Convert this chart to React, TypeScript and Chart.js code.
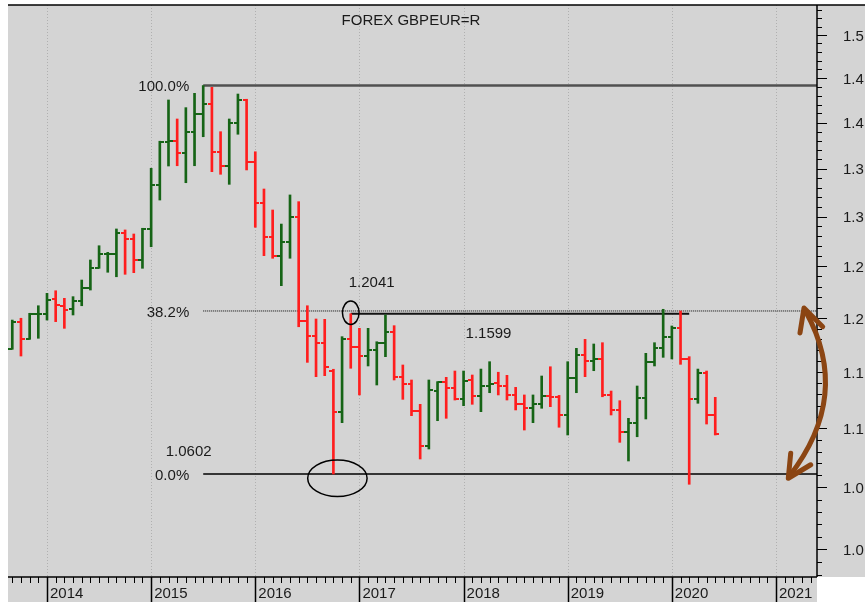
import React, { useEffect, useRef } from "react";
import { Chart, registerables } from "chart.js";

Chart.register(...registerables);

// ---------- data ----------
const months: string[] = [
  "2013-09", "2013-10", "2013-11", "2013-12",
  "2014-01", "2014-02", "2014-03", "2014-04", "2014-05", "2014-06", "2014-07", "2014-08", "2014-09", "2014-10", "2014-11", "2014-12",
  "2015-01", "2015-02", "2015-03", "2015-04", "2015-05", "2015-06", "2015-07", "2015-08", "2015-09", "2015-10", "2015-11", "2015-12",
  "2016-01", "2016-02", "2016-03", "2016-04", "2016-05", "2016-06", "2016-07", "2016-08", "2016-09", "2016-10", "2016-11", "2016-12",
  "2017-01", "2017-02", "2017-03", "2017-04", "2017-05", "2017-06", "2017-07", "2017-08", "2017-09", "2017-10", "2017-11", "2017-12",
  "2018-01", "2018-02", "2018-03", "2018-04", "2018-05", "2018-06", "2018-07", "2018-08", "2018-09", "2018-10", "2018-11", "2018-12",
  "2019-01", "2019-02", "2019-03", "2019-04", "2019-05", "2019-06", "2019-07", "2019-08", "2019-09", "2019-10", "2019-11", "2019-12",
  "2020-01", "2020-02", "2020-03", "2020-04", "2020-05", "2020-06",
];

const openV: number[] = [
  1.1711, 1.1960, 1.1803, 1.2035,
  1.2040, 1.2180, 1.2115, 1.2083, 1.2162, 1.2285, 1.2486, 1.2619, 1.2624, 1.2829, 1.2769, 1.2562,
  1.2870, 1.3327, 1.3785, 1.3800, 1.3664, 1.3899, 1.4095, 1.4204, 1.3681, 1.3528, 1.3992, 1.4251,
  1.3574, 1.3136, 1.2795, 1.2605, 1.2744, 1.2998, 1.1975, 1.1834, 1.1763, 1.1510, 1.1141, 1.1803,
  1.1732, 1.1646, 1.1702, 1.1763, 1.1871, 1.1458, 1.1392, 1.1152, 1.0851, 1.1330, 1.1407, 1.1359,
  1.1255, 1.1428, 1.1285, 1.1374, 1.1398, 1.1374, 1.1294, 1.1214, 1.1176, 1.1214, 1.1285, 1.1278,
  1.1117, 1.1449, 1.1655, 1.1603, 1.1616, 1.1294, 1.1161, 1.0966, 1.1050, 1.1270, 1.1594, 1.1723,
  1.1825, 1.1903, 1.1619, 1.1255, 1.1488, 1.1117,
];

const highV: number[] = [
  1.1981, 1.1998, 1.2045, 1.2117,
  1.2236, 1.2261, 1.2188, 1.2204, 1.2365, 1.2562, 1.2704, 1.2638, 1.2873, 1.2863, 1.2822, 1.2880,
  1.3504, 1.3795, 1.4251, 1.4039, 1.4165, 1.4326, 1.4414, 1.4394, 1.3899, 1.4039, 1.4318, 1.4259,
  1.3681, 1.3285, 1.3067, 1.2923, 1.3223, 1.3153, 1.2117, 1.1991, 1.1988, 1.1525, 1.1825, 1.2041,
  1.1903, 1.1903, 1.1778, 1.2029, 1.1928, 1.1564, 1.1428, 1.1211, 1.1428, 1.1413, 1.1452, 1.1509,
  1.1509, 1.1473, 1.1527, 1.1594, 1.1498, 1.1470, 1.1362, 1.1294, 1.1294, 1.1464, 1.1548, 1.1290,
  1.1594, 1.1717, 1.1800, 1.1757, 1.1769, 1.1329, 1.1243, 1.1088, 1.1374, 1.1671, 1.1769, 1.2083,
  1.1925, 1.2067, 1.1640, 1.1527, 1.1509, 1.1273,
];

const lowV: number[] = [
  1.1708, 1.1646, 1.1800, 1.1810,
  1.1981, 1.1966, 1.1903, 1.2029, 1.2117, 1.2268, 1.2480, 1.2441, 1.2397, 1.2421, 1.2437, 1.2480,
  1.2694, 1.3170, 1.3528, 1.3531, 1.3351, 1.3531, 1.3844, 1.3468, 1.3440, 1.3334, 1.3871, 1.3486,
  1.2890, 1.2605, 1.2579, 1.2310, 1.2579, 1.1918, 1.1588, 1.1458, 1.1467, 1.0612, 1.1050, 1.1534,
  1.1294, 1.1555, 1.1383, 1.1640, 1.1428, 1.1255, 1.1111, 1.0738, 1.0823, 1.1067, 1.1088, 1.1249,
  1.1199, 1.1211, 1.1146, 1.1314, 1.1294, 1.1249, 1.1161, 1.0986, 1.1050, 1.1176, 1.1190, 1.1010,
  1.0943, 1.1314, 1.1458, 1.1512, 1.1278, 1.1117, 1.0880, 1.0721, 1.0928, 1.1082, 1.1555, 1.1634,
  1.1619, 1.1570, 1.0526, 1.1220, 1.1038, 1.0943,
];

const closeV: number[] = [
  1.1966, 1.1803, 1.2035, 1.2040,
  1.2172, 1.2124, 1.2076, 1.2162, 1.2285, 1.2486, 1.2619, 1.2624, 1.2829, 1.2769, 1.2562, 1.2870,
  1.3327, 1.3785, 1.3800, 1.3664, 1.3899, 1.4095, 1.4204, 1.3681, 1.3528, 1.3992, 1.4251, 1.3574,
  1.3136, 1.2795, 1.2605, 1.2744, 1.2998, 1.1975, 1.1834, 1.1763, 1.1543, 1.1141, 1.1803, 1.1732,
  1.1646, 1.1702, 1.1763, 1.1871, 1.1458, 1.1392, 1.1152, 1.0851, 1.1338, 1.1407, 1.1359, 1.1255,
  1.1419, 1.1285, 1.1374, 1.1392, 1.1374, 1.1294, 1.1214, 1.1176, 1.1214, 1.1285, 1.1278, 1.1117,
  1.1449, 1.1655, 1.1603, 1.1616, 1.1294, 1.1161, 1.0966, 1.1050, 1.1270, 1.1594, 1.1723, 1.1825,
  1.1903, 1.1619, 1.1255, 1.1488, 1.1117, 1.0950,
];

const yMajorTicks: number[] = [1.0, 1.05, 1.1, 1.15, 1.2, 1.25, 1.3, 1.35, 1.4, 1.45, 1.5];
const yMajorLabels: string[] = ["1.0", "1.0", "1.1", "1.1", "1.2", "1.2", "1.3", "1.3", "1.4", "1.4", "1.5"];
const xYearTicks: number[] = [2014, 2015, 2016, 2017, 2018, 2019, 2020, 2021];
const xYearLabels: string[] = ["2014", "2015", "2016", "2017", "2018", "2019", "2020", "2021"];

const fibLevels: number[] = [1.4414, 1.2067, 1.0612];
const fibLabels: string[] = ["100.0%", "38.2%", "0.0%"];
const fibStart = "2015-07";

const resistLevel = 1.2041;
const resistFrom = "2016-12";
const resistTo = "2020-03";
const lowMonth = "2016-10";

const titleText = "FOREX GBPEUR=R";
const highNote = "1.2041";
const lowNote = "1.0602";
const midNote = "1.1599";

const X_MIN = 2013.6255;
const X_MAX = 2021.3937;
const Y_MIN = 0.9784;
const Y_MAX = 1.5359;

// ---------- styles ----------
const BG = "#d4d4d4";
const GREEN = "#166416";
const RED = "#ff1e1e";
const TEXT = "#1a1a1a";
const FONT = "'Liberation Sans', Arial, Helvetica, sans-serif";
const BROWN = "#8b4513";

const xOf = (m: string) => {
  const [y, mo] = m.split("-").map(Number);
  return y + (mo - 1) / 12;
};

function makeTick(color: string, side: "open" | "close") {
  const c = document.createElement("canvas");
  c.width = 8;
  c.height = 2;
  const g = c.getContext("2d")!;
  g.fillStyle = color;
  if (side === "open") g.fillRect(0, 0, 4, 2);
  else g.fillRect(4, 0, 4, 2);
  return c;
}

const decor = {
  id: "decor",
  beforeDraw(chart: any) {
    const { ctx, chartArea: ca, width, height } = chart;
    ctx.save();
    ctx.fillStyle = "#ffffff";
    ctx.fillRect(0, 0, width, height);
    ctx.fillStyle = BG;
    ctx.fillRect(ca.left, ca.top, width - ca.left, ca.bottom - ca.top);
    ctx.fillRect(ca.left, ca.bottom, ca.right - ca.left, height - ca.bottom);
    ctx.restore();
  },
  beforeDatasetsDraw(chart: any) {
    const { ctx, chartArea: ca, scales } = chart;
    const x = scales.x;
    ctx.save();
    ctx.strokeStyle = "#b0b0b0";
    ctx.lineWidth = 1;
    ctx.setLineDash([1, 2]);
    for (const v of xYearTicks) {
      const px = Math.round(x.getPixelForValue(v)) + 0.5;
      ctx.beginPath();
      ctx.moveTo(px, ca.top);
      ctx.lineTo(px, ca.bottom);
      ctx.stroke();
    }
    ctx.restore();
  },
  afterDraw(chart: any) {
    const { ctx, chartArea: ca, width, height, scales } = chart;
    const x = scales.x;
    const y = scales.y;
    const line = (x1: number, y1: number, x2: number, y2: number) => {
      ctx.beginPath();
      ctx.moveTo(x1, y1);
      ctx.lineTo(x2, y2);
      ctx.stroke();
    };
    ctx.save();
    ctx.strokeStyle = "#000";
    ctx.lineWidth = 1.5;
    line(ca.left, ca.top, width, ca.top);
    line(ca.right, ca.top, ca.right, ca.bottom);
    line(ca.left, ca.bottom, ca.right, ca.bottom);

    // y ticks
    ctx.lineWidth = 1;
    for (let i = 98; i <= 153; i++) {
      const v = i / 100;
      const py = Math.round(y.getPixelForValue(v)) + 0.5;
      const major = i % 5 === 0;
      line(ca.right, py, ca.right + (major ? 10 : 5), py);
    }
    // x ticks (monthly)
    for (let yr = 2013; yr <= 2021; yr++) {
      for (let mo = 0; mo < 12; mo++) {
        const v = yr + mo / 12;
        if (v < X_MIN || v > X_MAX) continue;
        const px = Math.round(x.getPixelForValue(v)) + 0.5;
        if (mo === 0) {
          ctx.lineWidth = 1.5;
          line(px, ca.bottom, px, height);
        } else {
          ctx.lineWidth = 1;
          line(px, ca.bottom, px, ca.bottom + 6);
        }
      }
    }

    // texts
    ctx.fillStyle = TEXT;
    ctx.font = `15px ${FONT}`;
    ctx.textBaseline = "middle";
    const fx = x.getPixelForValue(xOf(fibStart));
    ctx.textAlign = "right";
    fibLevels.forEach((lv, i) => {
      ctx.fillText(fibLabels[i], fx - 14, y.getPixelForValue(lv) + 1.5);
    });
    ctx.textAlign = "left";
    const rx = x.getPixelForValue(xOf(resistFrom));
    const ry = y.getPixelForValue(resistLevel);
    ctx.fillText(highNote, rx - 2, ry - 31);
    ctx.fillText(lowNote, fx - 37.5, y.getPixelForValue(fibLevels[2]) - 22);
    ctx.fillText(midNote, x.getPixelForValue(2018) + 2, ry + 20);
    ctx.textAlign = "center";
    ctx.fillText(titleText, (ca.left + ca.right) / 2 - 1.5, ca.top + 15.7);

    // ellipses
    ctx.strokeStyle = "#000";
    ctx.lineWidth = 1.5;
    ctx.beginPath();
    ctx.ellipse(rx, ry - 1, 8.3, 11.7, 0, 0, Math.PI * 2);
    ctx.stroke();
    const lx = x.getPixelForValue(xOf(lowMonth));
    const ly = y.getPixelForValue(fibLevels[2]);
    ctx.beginPath();
    ctx.ellipse(lx + 4, ly + 4.3, 29.7, 18.3, 0, 0, Math.PI * 2);
    ctx.stroke();

    // brown double arrow
    const topY = y.getPixelForValue(fibLevels[1]);
    const botY = y.getPixelForValue(fibLevels[2]);
    const tTip = { x: ca.right - 13, y: topY - 3 };
    const bTip = { x: ca.right - 28.7, y: botY + 4.3 };
    ctx.strokeStyle = BROWN;
    ctx.lineWidth = 5;
    ctx.lineCap = "round";
    ctx.lineJoin = "round";
    ctx.beginPath();
    ctx.moveTo(tTip.x + 2, tTip.y + 4);
    ctx.quadraticCurveTo(ca.right + 35, (topY + botY) / 2 + 3, bTip.x + 1, bTip.y - 2);
    ctx.stroke();
    ctx.beginPath();
    ctx.moveTo(tTip.x - 4, tTip.y + 25);
    ctx.lineTo(tTip.x, tTip.y);
    ctx.lineTo(tTip.x + 18.7, tTip.y + 18.7);
    ctx.stroke();
    ctx.beginPath();
    ctx.moveTo(bTip.x + 2.4, bTip.y - 25);
    ctx.lineTo(bTip.x, bTip.y);
    ctx.lineTo(bTip.x + 22.4, bTip.y - 13.5);
    ctx.stroke();
    ctx.restore();
  },
};

export default function App() {
  const ref = useRef<HTMLCanvasElement | null>(null);

  useEffect(() => {
    const canvas = ref.current;
    if (!canvas) return;
    const openUp = makeTick(GREEN, "open");
    const openDn = makeTick(RED, "open");
    const closeUp = makeTick(GREEN, "close");
    const closeDn = makeTick(RED, "close");
    const isUp = (i: number) => closeV[i] >= openV[i];
    const xs = months.map(xOf);

    const hline = (x1: number, x2: number, v: number, color: string, w: number, dash: number[] = []) => ({
      type: "line" as const,
      data: [{ x: x1, y: v }, { x: x2, y: v }],
      borderColor: color,
      borderWidth: w,
      borderDash: dash,
      pointRadius: 0,
      fill: false,
      order: 3,
    });

    const chart = new Chart(canvas, {
      type: "bar",
      data: {
        datasets: [
          hline(xOf(fibStart), X_MAX, fibLevels[0], "#505050", 2.5),
          hline(xOf(fibStart), X_MAX, fibLevels[1], "#000000", 1, [1, 1]),
          hline(xOf(fibStart), X_MAX, fibLevels[2], "#000000", 1.5),
          hline(xOf(resistFrom), xOf(resistTo), resistLevel, "#111111", 2),
          {
            type: "bar" as const,
            data: xs.map((xv, i) => ({ x: xv, y: [lowV[i], highV[i]] })),
            backgroundColor: (c: any) => (isUp(c.dataIndex) ? GREEN : RED),
            borderWidth: 0,
            barThickness: 2,
            order: 2,
          } as any,
          {
            type: "line" as const,
            data: xs.map((xv, i) => ({ x: xv, y: openV[i] })),
            showLine: false,
            pointStyle: (c: any) => (isUp(c.dataIndex) ? openUp : openDn),
            pointRadius: 3,
            order: 1,
          } as any,
          {
            type: "line" as const,
            data: xs.map((xv, i) => ({ x: xv, y: closeV[i] })),
            showLine: false,
            pointStyle: (c: any) => (isUp(c.dataIndex) ? closeUp : closeDn),
            pointRadius: 3,
            order: 1,
          } as any,
        ],
      },
      options: {
        animation: false,
        responsive: false,
        maintainAspectRatio: false,
        devicePixelRatio: 1,
        events: [],
        layout: { padding: { left: 8, top: 5, right: 0, bottom: 0 } },
        plugins: { legend: { display: false }, tooltip: { enabled: false }, title: { display: false } },
        scales: {
          x: {
            type: "linear",
            min: X_MIN,
            max: X_MAX,
            offset: false,
            bounds: "data",
            grid: { display: false, drawTicks: false, offset: false },
            border: { display: false },
            ticks: {
              autoSkip: false,
              maxRotation: 0,
              minRotation: 0,
              align: "start",
              labelOffset: 3,
              padding: 8,
              color: TEXT,
              font: { size: 15, family: FONT },
              callback: (v: any) => {
                const i = xYearTicks.findIndex((t) => Math.abs(t - Number(v)) < 1e-6);
                return i >= 0 ? xYearLabels[i] : "";
              },
            },
            afterBuildTicks: (s: any) => {
              s.ticks = xYearTicks.map((v) => ({ value: v }));
            },
            afterFit: (s: any) => {
              s.height = 25;
              s.paddingLeft = 0;
              s.paddingRight = 0;
              s.paddingTop = 0;
              s.paddingBottom = 0;
            },
          },
          y: {
            type: "logarithmic",
            position: "right",
            min: Y_MIN,
            max: Y_MAX,
            bounds: "data",
            grid: { display: false, drawTicks: false },
            border: { display: false },
            ticks: {
              autoSkip: false,
              padding: 26,
              labelOffset: 1.5,
              color: TEXT,
              font: { size: 15, family: FONT },
              callback: (v: any) => {
                const i = yMajorTicks.findIndex((t) => Math.abs(t - Number(v)) < 1e-6);
                return i >= 0 ? yMajorLabels[i] : "";
              },
            },
            afterBuildTicks: (s: any) => {
              s.ticks = yMajorTicks.map((v) => ({ value: v }));
            },
            afterFit: (s: any) => {
              s.width = 48;
              s.paddingTop = 0;
              s.paddingBottom = 0;
              s.paddingLeft = 0;
              s.paddingRight = 0;
            },
          },
        },
      } as any,
      plugins: [decor],
    });
    return () => chart.destroy();
  }, []);

  return (
    <div style={{ position: "absolute", left: 0, top: 0, width: 865, height: 602 }}>
      <canvas ref={ref} width={865} height={602} style={{ display: "block", width: 865, height: 602 }} />
    </div>
  );
}
